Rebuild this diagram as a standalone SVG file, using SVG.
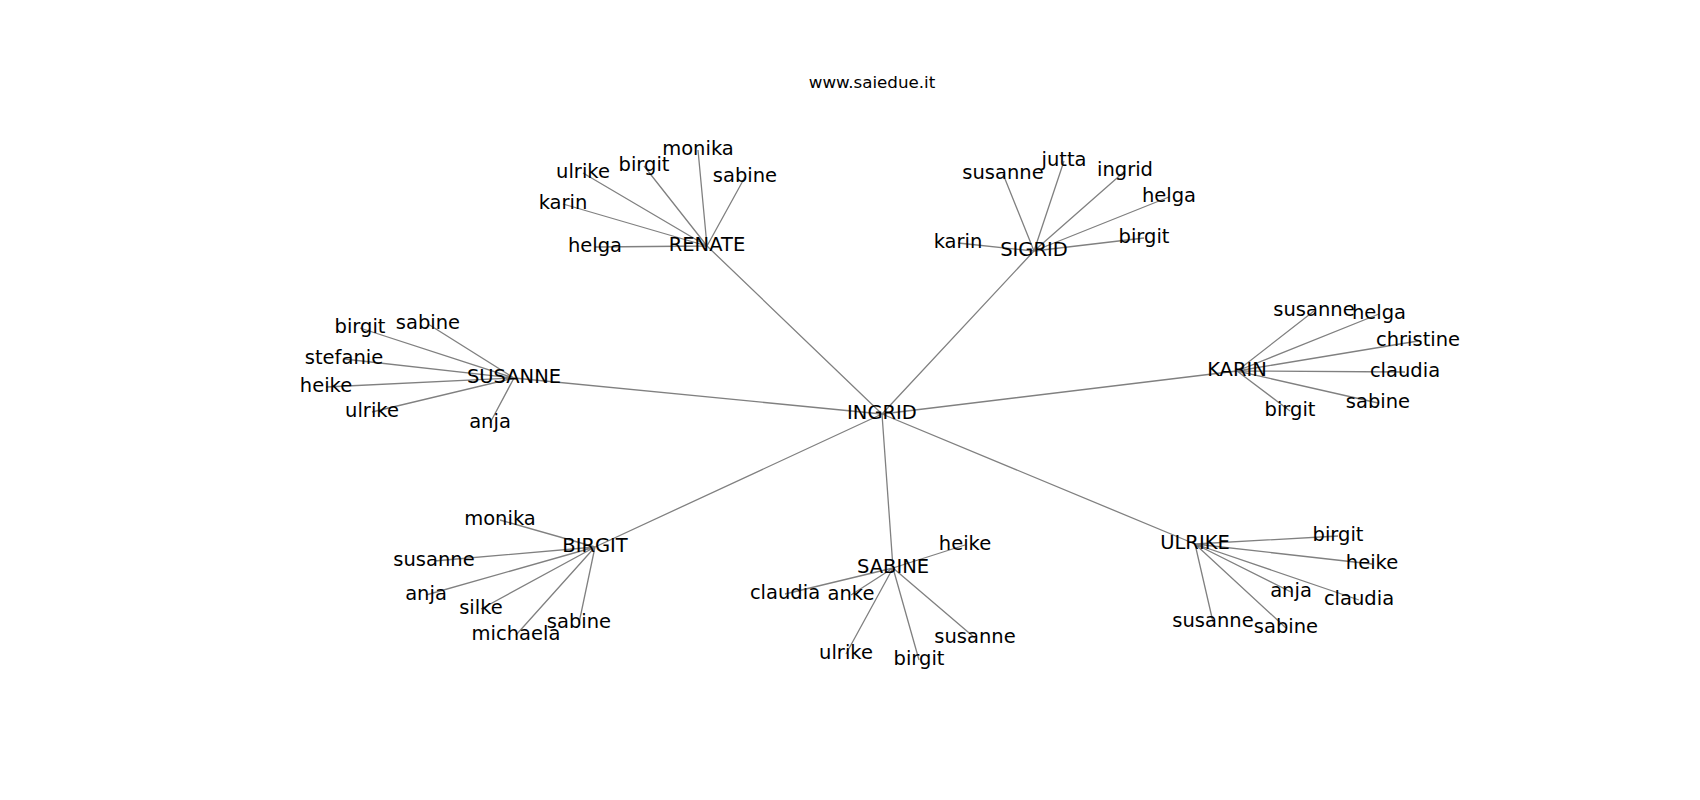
<svg xmlns="http://www.w3.org/2000/svg" width="1700" height="800" viewBox="0 0 1700 800">
<style>
.e{stroke:#808080;stroke-width:1.3;fill:none}
text{font-family:"DejaVu Sans",sans-serif;font-size:19.5px;fill:#000;text-anchor:middle}
.t{font-size:16.7px}
</style>
<rect width="1700" height="800" fill="#fff"/>
<text class="t" x="872" y="88">www.saiedue.it</text>
<g transform="translate(-1,-2)">
<g id="edges">
<path class="e" d="M883 416L708 248M883 416L1035 253M883 416L515 380M883 416L1238 373M883 416L596 549M883 416L894 570M883 416L1196 546"/>
<path class="e" d="M708 248L596 249M708 248L564 206M708 248L584 175M708 248L645 168M708 248L699 152M708 248L746 179"/>
<path class="e" d="M1035 253L959 245M1035 253L1004 176M1035 253L1065 163M1035 253L1126 173M1035 253L1170 199M1035 253L1145 240"/>
<path class="e" d="M515 380L361 330M515 380L429 326M515 380L345 361M515 380L327 389M515 380L373 414M515 380L491 425"/>
<path class="e" d="M1238 373L1315 313M1238 373L1380 316M1238 373L1419 343M1238 373L1406 374M1238 373L1379 405M1238 373L1291 413"/>
<path class="e" d="M596 549L501 522M596 549L435 563M596 549L427 597M596 549L482 611M596 549L517 637M596 549L580 625"/>
<path class="e" d="M894 570L966 547M894 570L786 596M894 570L852 597M894 570L847 656M894 570L920 662M894 570L976 640"/>
<path class="e" d="M1196 546L1339 538M1196 546L1373 566M1196 546L1292 594M1196 546L1360 602M1196 546L1214 624M1196 546L1287 630"/>
</g>
<g id="n-ingrid"><text x="883" y="421">INGRID</text></g>
<g id="n-renate"><text x="708" y="253">RENATE</text>
<text x="596" y="254">helga</text><text x="564" y="211">karin</text><text x="584" y="180">ulrike</text><text x="645" y="173">birgit</text><text x="699" y="157">monika</text><text x="746" y="184">sabine</text></g>
<g id="n-sigrid"><text x="1035" y="258">SIGRID</text>
<text x="959" y="250">karin</text><text x="1004" y="181">susanne</text><text x="1065" y="168">jutta</text><text x="1126" y="178">ingrid</text><text x="1170" y="204">helga</text><text x="1145" y="245">birgit</text></g>
<g id="n-susanne"><text x="515" y="385">SUSANNE</text>
<text x="361" y="335">birgit</text><text x="429" y="331">sabine</text><text x="345" y="366">stefanie</text><text x="327" y="394">heike</text><text x="373" y="419">ulrike</text><text x="491" y="430">anja</text></g>
<g id="n-karin"><text x="1238" y="378">KARIN</text>
<text x="1315" y="318">susanne</text><text x="1380" y="321">helga</text><text x="1419" y="348">christine</text><text x="1406" y="379">claudia</text><text x="1379" y="410">sabine</text><text x="1291" y="418">birgit</text></g>
<g id="n-birgit"><text x="596" y="554">BIRGIT</text>
<text x="501" y="527">monika</text><text x="435" y="568">susanne</text><text x="427" y="602">anja</text><text x="482" y="616">silke</text><text x="517" y="642">michaela</text><text x="580" y="630">sabine</text></g>
<g id="n-sabine"><text x="894" y="575">SABINE</text>
<text x="966" y="552">heike</text><text x="786" y="601">claudia</text><text x="852" y="602">anke</text><text x="847" y="661">ulrike</text><text x="920" y="667">birgit</text><text x="976" y="645">susanne</text></g>
<g id="n-ulrike"><text x="1196" y="551">ULRIKE</text>
<text x="1339" y="543">birgit</text><text x="1373" y="571">heike</text><text x="1292" y="599">anja</text><text x="1360" y="607">claudia</text><text x="1214" y="629">susanne</text><text x="1287" y="635">sabine</text></g>
</g>
</svg>
